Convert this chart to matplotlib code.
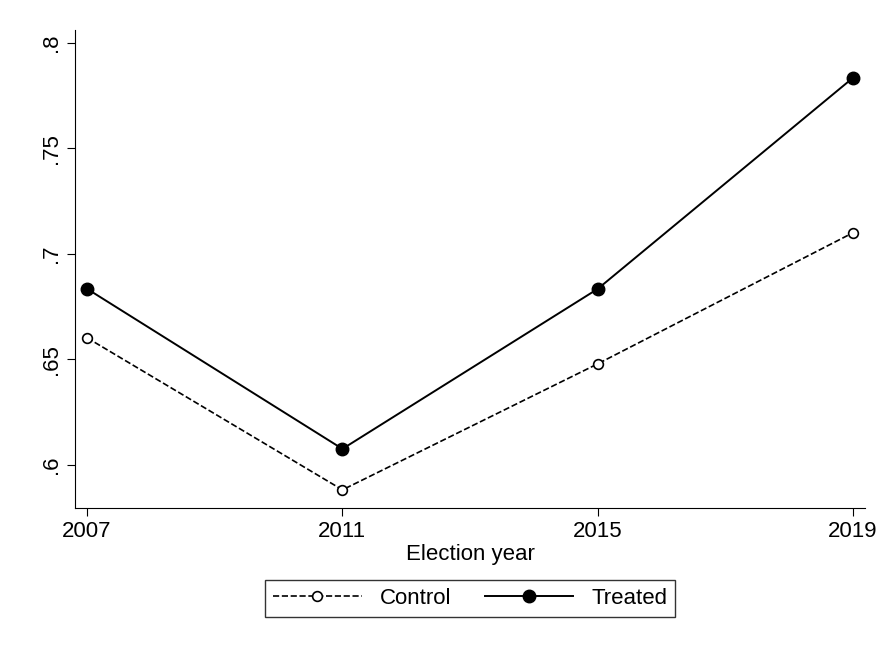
import matplotlib.pyplot as plt

years = [2007, 2011, 2015, 2019]
control = [0.6602, 0.5882, 0.6479, 0.7100]
treated = [0.6834, 0.6076, 0.6834, 0.7834]
yticks = [0.6, 0.65, 0.7, 0.75, 0.8]
ylabels = ['.6', '.65', '.7', '.75', '.8']

plt.rcParams['font.family'] = 'Liberation Sans'
fig = plt.figure(figsize=(8.82, 6.46), dpi=100)
ax = fig.add_axes([0.085, 0.2136, 0.896, 0.74])

ax.plot(years, control, '--', color='black', lw=1.2, marker='o', ms=7,
        mfc='white', mec='black', mew=1.2, label='Control')
ax.plot(years, treated, '-', color='black', lw=1.4, marker='o', ms=9,
        label='Treated')

ax.set_xlim(2006.81, 2019.19)
ax.set_ylim(0.5796, 0.806)
ax.set_xticks(years)
ax.set_yticks(yticks)
ax.set_yticklabels(ylabels, rotation=90, va='center')
ax.tick_params(labelsize=16, length=6)
ax.set_xlabel('Election year', fontsize=16, labelpad=1)
for s in ['top', 'right']:
    ax.spines[s].set_visible(False)

leg = ax.legend(loc='upper center', bbox_to_anchor=(0.5, -0.128), ncol=2,
                fontsize=16, fancybox=False, edgecolor='black',
                handlelength=4, columnspacing=1.5, borderpad=0.35)
leg.get_frame().set_linewidth(1.0)

fig.savefig('out.png', dpi=100)
